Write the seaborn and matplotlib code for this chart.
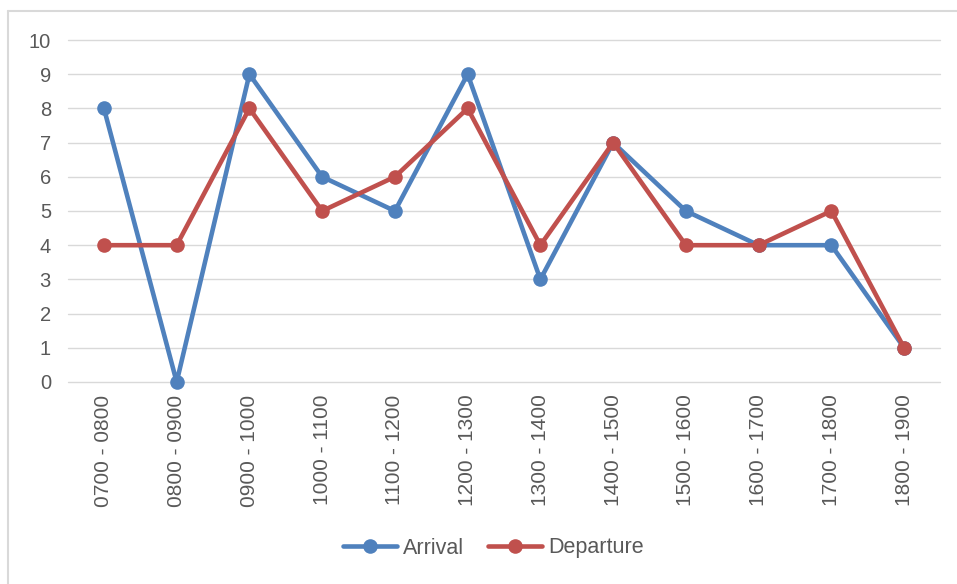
import matplotlib
matplotlib.use("Agg")
import matplotlib.pyplot as plt
import seaborn as sns
import pandas as pd
from matplotlib.lines import Line2D

categories = ["0700 - 0800", "0800 - 0900", "0900 - 1000", "1000 - 1100",
              "1100 - 1200", "1200 - 1300", "1300 - 1400", "1400 - 1500",
              "1500 - 1600", "1600 - 1700", "1700 - 1800", "1800 - 1900"]
arrival = [8, 0, 9, 6, 5, 9, 3, 7, 5, 4, 4, 1]
departure = [4, 4, 8, 5, 6, 8, 4, 7, 4, 4, 5, 1]
series_names = ["Arrival", "Departure"]
colors = ["#4F81BD", "#C0504D"]

df = pd.DataFrame({
    "slot": categories * 2,
    "value": arrival + departure,
    "series": [series_names[0]] * len(categories) + [series_names[1]] * len(categories),
})

sns.set_theme(style="white")
plt.rcParams['font.family'] = ['Liberation Sans', 'DejaVu Sans']

fig = plt.figure(figsize=(9.57, 5.84), dpi=100)
ax = fig.add_axes([0.0706, 0.3459, 0.9827 - 0.0706, 0.9315 - 0.3459])

sns.lineplot(data=df, x="slot", y="value", hue="series", palette=colors,
             marker="o", markersize=10.5, markeredgewidth=0, linewidth=3.3,
             sort=False, ax=ax, legend=False)

ax.set_xlim(-0.5, len(categories) - 0.5)
ax.set_ylim(0, 10)
ax.set_yticks(range(0, 11))
ax.yaxis.grid(True, color="#D9D9D9", linewidth=1)
ax.xaxis.grid(False)
for gl in ax.yaxis.get_gridlines():
    gl.set_clip_on(False)
for s in ax.spines.values():
    s.set_visible(False)
ax.set_axisbelow(True)
ax.set_xlabel("")
ax.set_ylabel("")
ax.tick_params(axis="both", length=0, colors="#595959", labelsize=14.5)
ax.tick_params(axis="x", labelsize=15)
ax.tick_params(axis="y", pad=12)
ax.tick_params(axis="x", pad=9)
for lbl in ax.get_xticklabels():
    lbl.set_rotation(90)
for line in ax.get_lines():
    line.set_clip_on(False)

handles = [Line2D([], [], color=c, marker="o", markersize=10.5, markeredgewidth=0,
                  linewidth=3.3) for c in colors]
fig.legend(handles, series_names, loc="center", bbox_to_anchor=(493 / 957, 1 - 548 / 584),
           ncol=2, frameon=False, fontsize=15.5, handlelength=2.55, columnspacing=1.1,
           handletextpad=0.25, labelcolor="#595959")

# outer chart border (left and top visible)
fig.add_artist(Line2D([8 / 957, 8 / 957], [0, 1 - 11 / 584], color="#D9D9D9", linewidth=1.5,
                      transform=fig.transFigure))
fig.add_artist(Line2D([8 / 957, 1], [1 - 11 / 584, 1 - 11 / 584], color="#D9D9D9", linewidth=1.5,
                      transform=fig.transFigure))

fig.savefig("out.png", dpi=100, facecolor="white")
